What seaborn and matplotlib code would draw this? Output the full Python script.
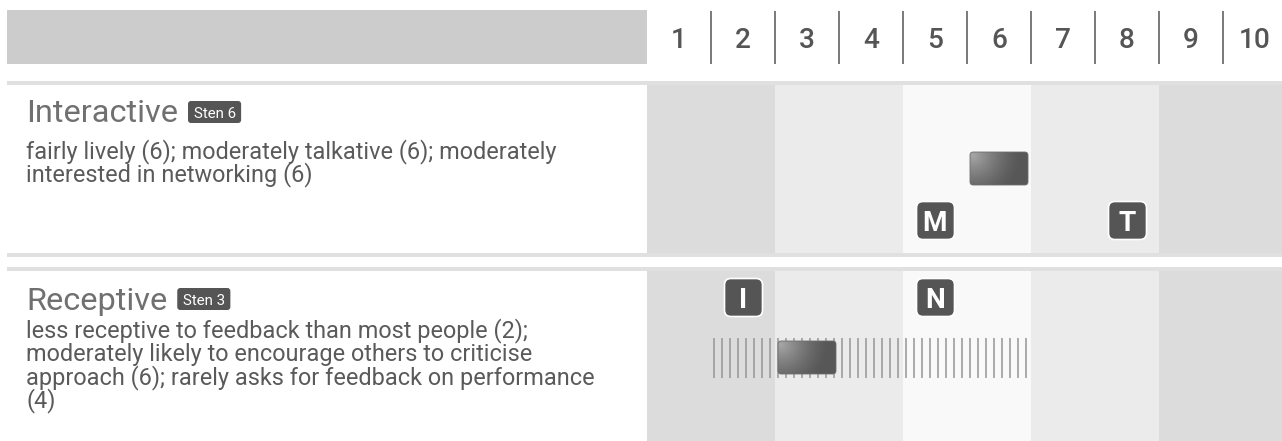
import matplotlib

matplotlib.use("Agg")
import matplotlib.pyplot as plt
import numpy as np
import pandas as pd
import seaborn as sns
from matplotlib import font_manager
from matplotlib.patches import BoxStyle, FancyBboxPatch, Rectangle

# --- data -------------------------------------------------------------
STEN_LEVELS = list(range(1, 11))
SCALE_NAMES = ["Interactive", "Receptive"]
STEN_SCORES = [6, 3]
FACET_SCORES = [[6, 6, 6], [2, 6, 4]]
DESCRIPTIONS = [
    [
        "fairly lively (6); moderately talkative (6); moderately",
        "interested in networking (6)",
    ],
    [
        "less receptive to feedback than most people (2);",
        "moderately likely to encourage others to criticise",
        "approach (6); rarely asks for feedback on performance",
        "(4)",
    ],
]
MARKER_LABELS = [["M", "T"], ["I", "N"]]
MARKER_STENS = [[5, 8], [2, 5]]

# --- styling / layout (pixels) ----------------------------------------
W, H = 1282, 441
CHART_X0, UNIT = 647, 64
BAND_COLORS = ["#dcdcdc", "#dcdcdc", "#ebebeb", "#ebebeb", "#f9f9f9",
               "#f9f9f9", "#ebebeb", "#ebebeb", "#dcdcdc", "#dcdcdc"]
ROW_BOXES = [(85, 253), (271, 441)]
ROW_LINES = [(81, 85), (253, 257), (267, 271)]
TITLE_BASELINES = [122, 310]
BODY_FIRST_BASELINE = [158.5, 337.5]
BODY_LINE_STEP = 23.3
BADGE_BOXES = [(101, 123), (288, 310)]
BAR_Y = [83.5, 86.5]
MARKER_Y = [135, 26]
DARK = "#555555"

available = {f.name for f in font_manager.fontManager.ttflist}
if "Liberation Sans Narrow" in available:
    TEXT_FONT = "Liberation Sans Narrow"
    BODY_PX, TITLE_PX, BADGE_PX, LETTER_PX = 26, 32, 16, 30
else:
    TEXT_FONT = "Roboto"
    BODY_PX, TITLE_PX, BADGE_PX, LETTER_PX = 23.5, 32.5, 15, 28


def pt(px):
    return px * 0.72


def px_axes(fig, x0, y0, x1, y1):
    return fig.add_axes([x0 / W, 1 - y1 / H, (x1 - x0) / W, (y1 - y0) / H])


def rounded_marker():
    return BoxStyle.Round(pad=0, rounding_size=0.17)(-0.5, -0.5, 1, 1, 1.0)


def gradient_image(nx=116, ny=66):
    u = np.linspace(0, 1, nx)[None, :]
    v = np.linspace(0, 1, ny)[:, None]
    d = np.sqrt(((u - 0.05) * 58) ** 2 + ((v - 0.1) * 33) ** 2)
    val = np.clip(1 - d / 48, 0, 1) ** 1.4
    dark, light = 0x57 / 255, 0xa6 / 255
    g = dark + (light - dark) * val
    return np.dstack([g, g, g])


def draw_bar(ax, sten, yc):
    x0 = sten - 0.5 + 3 / UNIT
    w = 58 / UNIT
    h = 33
    patch = FancyBboxPatch(
        (x0, yc - h / 2), w, h,
        boxstyle="round,pad=0,rounding_size=0.05",
        mutation_aspect=UNIT, fc="none", ec="#6e6e6e", lw=0.6, zorder=4,
    )
    ax.add_patch(patch)
    im = ax.imshow(
        gradient_image(), extent=(x0, x0 + w, yc + h / 2, yc - h / 2),
        aspect="auto", interpolation="bilinear", zorder=3,
    )
    im.set_clip_path(patch)


def main() -> None:
    sns.set_theme(style="white")
    plt.rcParams["font.family"] = [TEXT_FONT, "DejaVu Sans"]

    fig = plt.figure(figsize=(W / 100, H / 100), dpi=100)
    fig.patch.set_facecolor("white")

    canvas = fig.add_axes([0, 0, 1, 1])
    canvas.set_xlim(0, W)
    canvas.set_ylim(H, 0)
    canvas.axis("off")

    canvas.add_patch(Rectangle((7, 10), CHART_X0 - 7, 54, fc="#cccccc", ec="none"))
    for y0, y1 in ROW_LINES:
        canvas.add_patch(Rectangle((7, y0), W - 7, y1 - y0, fc="#e0e0e0", ec="none"))

    renderer = fig.canvas.get_renderer()
    for i, name in enumerate(SCALE_NAMES):
        title = canvas.text(26, TITLE_BASELINES[i], name, fontsize=pt(TITLE_PX),
                            color="#707070", va="baseline", ha="left")
        x_end = title.get_window_extent(renderer).x1
        badge_text = f"Sten {STEN_SCORES[i]}"
        b0, b1 = BADGE_BOXES[i]
        probe = canvas.text(0, 0, badge_text, fontsize=pt(BADGE_PX))
        tw = probe.get_window_extent(renderer).width
        probe.remove()
        bx = x_end + 10
        bw = tw + 11
        canvas.add_patch(FancyBboxPatch(
            (bx, b0), bw, b1 - b0, boxstyle="round,pad=0,rounding_size=3",
            fc=DARK, ec="none"))
        canvas.text(bx + bw / 2, (b0 + b1) / 2 + 0.5, badge_text, fontsize=pt(BADGE_PX),
                    color="white", ha="center", va="center_baseline")
        for k, line in enumerate(DESCRIPTIONS[i]):
            canvas.text(26, BODY_FIRST_BASELINE[i] + k * BODY_LINE_STEP, line,
                        fontsize=pt(BODY_PX), color="#5a5a5a", va="baseline", ha="left")

    # header scale
    head = px_axes(fig, CHART_X0, 10, CHART_X0 + 10 * UNIT, 64)
    head.set_xlim(0.5, 10.5)
    head.set_ylim(64, 10)
    head.axis("off")
    for s in STEN_LEVELS:
        head.text(s, 48, str(s), ha="center", va="baseline", fontsize=pt(28),
                  color=DARK, family=["Roboto", "DejaVu Sans"], fontweight="medium")
    head.vlines(np.array(STEN_LEVELS[:-1]) + 0.5, 11, 64, color=DARK, lw=1.1)

    marker = rounded_marker()
    for i in range(len(SCALE_NAMES)):
        top, bottom = ROW_BOXES[i]
        ax = px_axes(fig, CHART_X0, top, CHART_X0 + 10 * UNIT, bottom)
        h = bottom - top
        for s, c in zip(STEN_LEVELS, BAND_COLORS):
            ax.axvspan(s - 0.5, s + 0.5, color=c, lw=0, zorder=0)

        lo, hi = min(FACET_SCORES[i]), max(FACET_SCORES[i])
        if lo != hi:
            xs = np.arange(lo - 0.5 + 3 / UNIT, hi + 0.5 - 3 / UNIT, 8 / UNIT)
            ax.vlines(xs, BAR_Y[i] - 20, BAR_Y[i] + 20, color="#999999", lw=1.15, zorder=2)

        draw_bar(ax, STEN_SCORES[i], BAR_Y[i])

        df = pd.DataFrame({"sten": MARKER_STENS[i],
                           "y": [MARKER_Y[i]] * len(MARKER_STENS[i]),
                           "label": MARKER_LABELS[i]})
        sns.scatterplot(data=df, x="sten", y="y", marker=marker, s=pt(38) ** 2,
                        color=DARK, edgecolor="white", linewidth=1.2,
                        legend=False, zorder=5, ax=ax)
        for _, row in df.iterrows():
            ax.text(row["sten"], row["y"] + 0.5, row["label"], ha="center",
                    va="center_baseline", color="white", fontweight="bold",
                    fontsize=pt(LETTER_PX), zorder=6)

        ax.set_xlim(0.5, 10.5)
        ax.set_ylim(h, 0)
        ax.axis("off")

    fig.savefig("out.png", dpi=100)
    plt.close(fig)


if __name__ == "__main__":
    main()
